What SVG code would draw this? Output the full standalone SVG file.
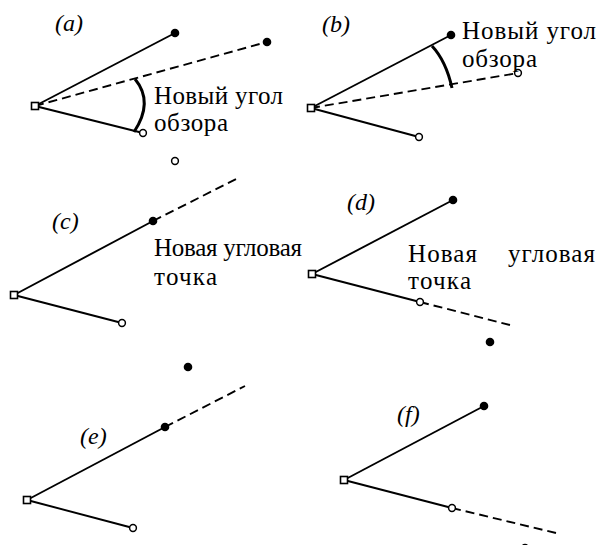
<svg xmlns="http://www.w3.org/2000/svg" width="600" height="545" viewBox="0 0 600 545">
<style>
.ln{stroke:#000;stroke-width:1.9;fill:none}
.ds{stroke:#000;stroke-width:1.9;fill:none;stroke-dasharray:9 5}
.arc{stroke:#000;stroke-width:3;fill:none}
.fd{fill:#000}
.od{fill:#fff;stroke:#000;stroke-width:1.5}
.sq{fill:#fff;stroke:#000;stroke-width:1.6}
.lb{font-family:"Liberation Serif","Times New Roman",serif;font-style:italic;font-size:24px;fill:#000}
.tx{font-family:"Liberation Serif","Times New Roman",serif;font-size:25px;fill:#000}
</style>
<g id="connectors">
<line class="ln" x1="35" y1="106" x2="175" y2="33"/>
<line class="ds" x1="35" y1="106" x2="267" y2="42"/>
<line class="ln" x1="35" y1="106" x2="143" y2="133"/>
<path class="arc" d="M135,79 Q154,102 134,132"/>
<line class="ln" x1="311" y1="108" x2="451" y2="35"/>
<line class="ds" x1="311" y1="108" x2="518" y2="73"/>
<line class="ln" x1="311" y1="108" x2="419" y2="137"/>
<path class="arc" d="M432,46 Q446,61 452,88"/>
<line class="ln" x1="14" y1="295" x2="153" y2="221"/>
<line class="ds" x1="153" y1="221" x2="240" y2="177"/>
<line class="ln" x1="14" y1="295" x2="122" y2="323"/>
<line class="ln" x1="312" y1="274" x2="453" y2="200"/>
<line class="ln" x1="312" y1="274" x2="420" y2="302"/>
<line class="ds" x1="420" y1="302" x2="510" y2="325"/>
<line class="ln" x1="27" y1="500" x2="165" y2="427"/>
<line class="ds" x1="165" y1="427" x2="245" y2="386"/>
<line class="ln" x1="27" y1="500" x2="133" y2="528"/>
<line class="ln" x1="344" y1="480" x2="484" y2="406"/>
<line class="ln" x1="344" y1="480" x2="452" y2="508"/>
<line class="ds" x1="452" y1="508" x2="556" y2="533"/>
</g>
<g id="panel-a">
<text class="lb" x="55" y="31">(a)</text>
<rect class="sq" x="31.5" y="102.5" width="7" height="7"/>
<circle class="fd" cx="175" cy="33" r="4.3"/>
<circle class="fd" cx="267" cy="42" r="4.3"/>
<circle class="od" cx="143" cy="133" r="3.4"/>
<text class="tx" x="154" y="104" textLength="129">Новый угол</text>
<text class="tx" x="154" y="131" textLength="74">обзора</text>
</g>
<g id="panel-b">
<text class="lb" x="322" y="32">(b)</text>
<rect class="sq" x="307.5" y="104.5" width="7" height="7"/>
<circle class="fd" cx="451" cy="35" r="4.3"/>
<circle class="od" cx="518" cy="73" r="3.4"/>
<circle class="od" cx="419" cy="137" r="3.4"/>
<text class="tx" x="462" y="39" textLength="134">Новый угол</text>
<text class="tx" x="462" y="67" textLength="75">обзора</text>
</g>
<g id="stray-point">
<circle class="od" cx="175" cy="161" r="3.4"/>
</g>
<g id="panel-c">
<text class="lb" x="52" y="229">(c)</text>
<rect class="sq" x="10.5" y="291.5" width="7" height="7"/>
<circle class="fd" cx="153" cy="221" r="4.3"/>
<circle class="od" cx="122" cy="323" r="3.4"/>
<text class="tx" x="154" y="256" textLength="148">Новая угловая</text>
<text class="tx" x="154" y="285" textLength="63">точка</text>
</g>
<g id="panel-d">
<text class="lb" x="347" y="210">(d)</text>
<rect class="sq" x="308.5" y="270.5" width="7" height="7"/>
<circle class="fd" cx="453" cy="200" r="4.3"/>
<circle class="od" cx="420" cy="302" r="3.4"/>
<circle class="fd" cx="490" cy="342" r="4.3"/>
<text class="tx" y="262"><tspan x="408" textLength="69">Новая</tspan> <tspan x="508" textLength="87">угловая</tspan></text>
<text class="tx" x="408" y="289" textLength="63">точка</text>
</g>
<g id="panel-e">
<text class="lb" x="80" y="444">(e)</text>
<rect class="sq" x="23.5" y="496.5" width="7" height="7"/>
<circle class="fd" cx="188" cy="367" r="4.3"/>
<circle class="fd" cx="165" cy="427" r="4.3"/>
<circle class="od" cx="133" cy="528" r="3.4"/>
</g>
<g id="panel-f">
<text class="lb" x="397" y="422">(f)</text>
<rect class="sq" x="340.5" y="476.5" width="7" height="7"/>
<circle class="fd" cx="484" cy="406" r="4.3"/>
<circle class="od" cx="452" cy="508" r="3.4"/>
<circle class="fd" cx="525" cy="548" r="4.3"/>
</g>
</svg>
